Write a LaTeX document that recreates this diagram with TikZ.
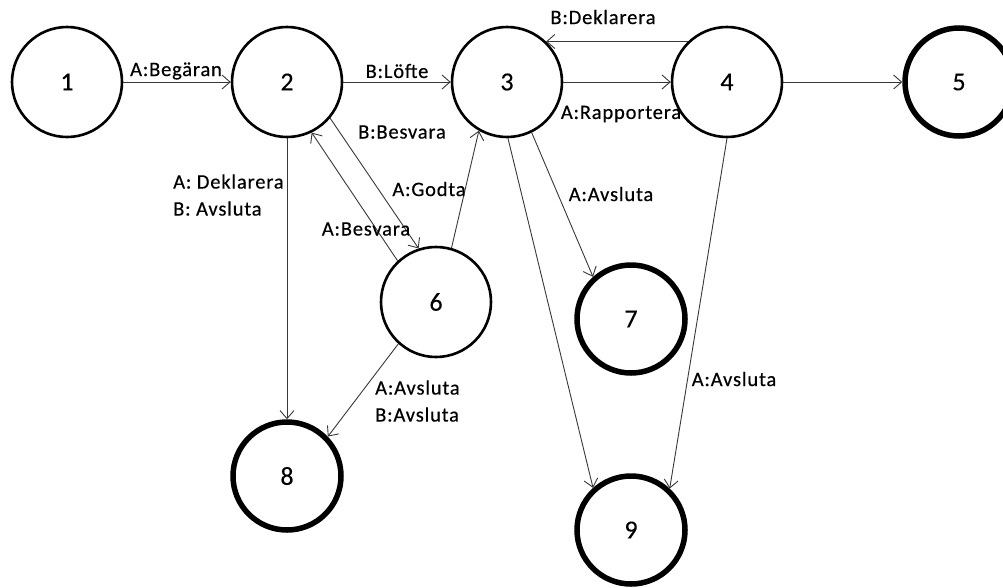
\documentclass[tikz,border=0pt]{standalone}
\usepackage{fontspec}
\setmainfont{Carlito}
\newfontfamily\lblfont[LetterSpace=4,FakeBold=0.4]{Carlito}
\newfontfamily\numfont[FakeBold=0.3]{Carlito}
\usetikzlibrary{arrows.meta}
\begin{document}
\begin{tikzpicture}[x=1pt,y=-1pt,
  state/.style={circle, draw, line width=2.6pt, minimum size=110pt, inner sep=0pt,
    font=\numfont\fontsize{26}{26}\selectfont},
  final/.style={state, line width=5.5pt, minimum size=108pt},
  edge/.style={draw=black!78, line width=0.9pt, -{Straight Barb[length=8pt,width=14pt]}},
  lbl/.style={font=\lblfont\fontsize{20.5}{27}\selectfont, inner sep=0pt, align=left}]
\useasboundingbox (0,0) rectangle (1003,587);
\clip (0,0) rectangle (1003,587);

% states
\node[state] (n1) at (67,82)  {1};
\node[state] (n2) at (287,82) {2};
\node[state] (n3) at (507,82) {3};
\node[state] (n4) at (727,82) {4};
\node[final] (n5) at (959,82) {5};
\node[state] (n6) at (436,302) {6};
\node[final] (n7) at (631,319) {7};
\node[final] (n8) at (287,476) {8};
\node[final] (n9) at (631,530) {9};

% transitions
\draw[edge] (n1.east) -- (n2.west);
\draw[edge] (n2.east) -- (n3.west);
\draw[edge] (n3.east) -- (n4.west);
\draw[edge] (n4.east) -- (n5.west);
\draw[edge] (n4.134) -- (n3.46);
\draw[edge] (n2.south) -- (n8.north);
\draw[edge] (n2.-40) -- (n6.108);
\draw[edge] (n6.133) -- (n2.-64);
\draw[edge] (n6.74) -- (n3.-120);
\draw[edge] (n6.-132) -- (n8.44);
\draw[edge] (n3.-64) -- (n7.132);
\draw[edge] (n3.-89) -- (n9.132);
\draw[edge] (n4.-90) -- (n9.47);

% transition labels
\node[lbl] (l12) at (176,71) {A:Begäran};
\node[lbl] (l23) at (397,71) {B:Löfte};
\node[lbl] (l43) at (603,17) {B:Deklarera};
\node[lbl] (l34) at (621,114) {A:Rapportera};
\node[lbl] (l26) at (402,132) {B:Besvara};
\node[lbl, anchor=west] (l28) at (173,195) {A: Deklarera\\B: Avsluta};
\node[lbl] (l63) at (429,189) {A:Godta};
\node[lbl] (l62) at (366,229) {A:Besvara};
\node[lbl, anchor=west] (l68) at (375,401) {A:Avsluta\\B:Avsluta};
\node[lbl] (l37) at (611,194) {A:Avsluta};
\node[lbl] (l49) at (734,379) {A:Avsluta};
\end{tikzpicture}
\end{document}
